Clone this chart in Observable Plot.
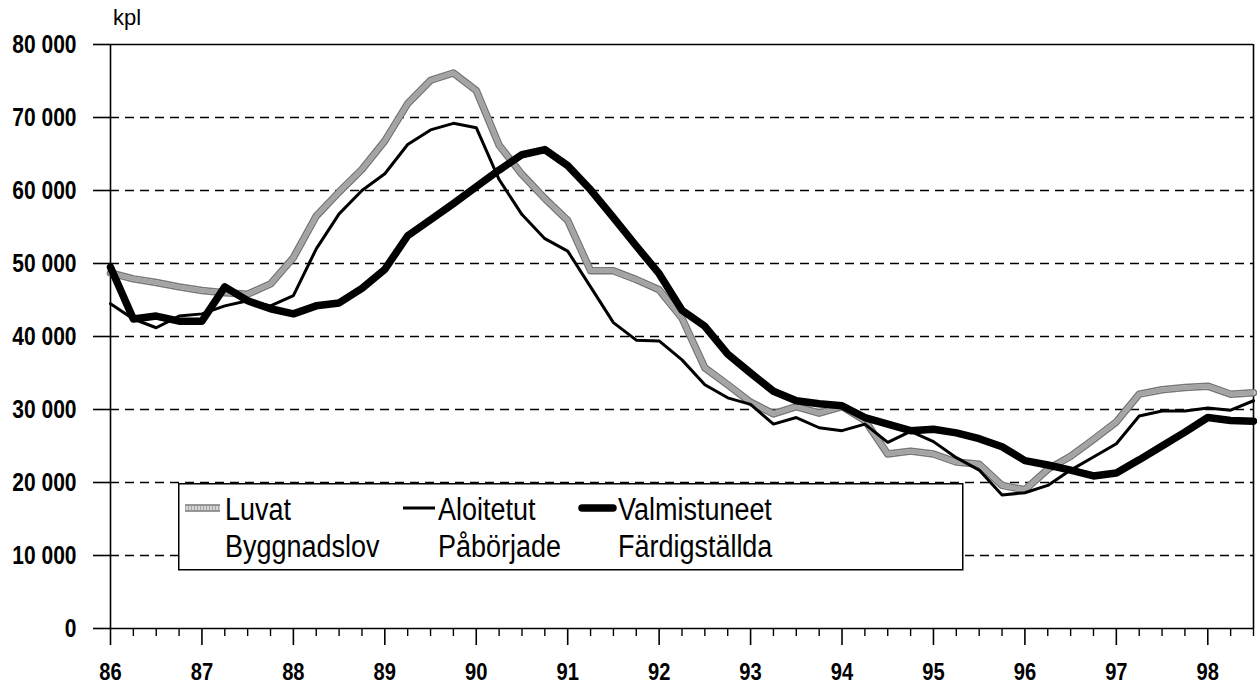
<!DOCTYPE html>
<html>
<head>
<meta charset="utf-8">
<script src="https://cdn.jsdelivr.net/npm/d3@7"></script>
<script src="https://cdn.jsdelivr.net/npm/@observablehq/plot@0.6"></script>
<style>
  html, body { margin: 0; padding: 0; background: #fff; }
  #wrap { position: relative; width: 1257px; height: 686px; overflow: hidden; }
  #unit { position: absolute; left: 113px; top: 5px; font-size: 22px; font-family: "Liberation Sans", Arial, sans-serif; }
  #legend { position: absolute; left: 178px; top: 483px; }
</style>
</head>
<body>
<div id="wrap"></div>
<script>
// ---- data (quarterly, 1986Q1 .. 1998Q3) ----
const luvat = [
  48700, 47900, 47400, 46800,
  46300, 46000, 45800, 47200,
  50800, 56500, 59800, 62900,
  66800, 71900, 75100, 76100,
  73700, 66200, 62200, 58900,
  55900, 49000, 49000, 47800,
  46400, 42500, 35700, 33400,
  31000, 29400, 30400, 29500,
  30400, 28500, 23900, 24300,
  23900, 22800, 22500, 19600,
  19000, 21800, 23600, 25900,
  28300, 32100, 32700, 33000,
  33200, 32100, 32300
];
const aloitetut = [
  44500, 42400, 41200, 42800,
  43100, 44200, 44900, 44200,
  45600, 52000, 56800, 60000,
  62300, 66300, 68300, 69200,
  68600, 61500, 56700, 53400,
  51700, 46800, 41900, 39500,
  39400, 36800, 33400, 31600,
  30700, 28000, 28900, 27500,
  27100, 28000, 25500, 27000,
  25600, 23400, 21700, 18300,
  18600, 19600, 21700, 23500,
  25300, 29100, 29800, 29800,
  30200, 29900, 31200
];
const valmistuneet = [
  49500, 42400, 42800, 42100,
  42100, 46800, 44900, 43800,
  43100, 44200, 44600, 46600,
  49200, 53800, 56000, 58200,
  60500, 62800, 64900, 65600,
  63400, 60100, 56300, 52400,
  48600, 43600, 41400, 37600,
  35000, 32500, 31200, 30800,
  30500, 28900, 28000, 27100,
  27300, 26800, 26000, 24900,
  23000, 22400, 21700, 20900,
  21300, 23100, 25000, 26900,
  28900, 28500, 28400
];
const yearTicks = [86, 87, 88, 89, 90, 91, 92, 93, 94, 95, 96, 97, 98];
const yTicks = [0, 10000, 20000, 30000, 40000, 50000, 60000, 70000, 80000];
const unitLabel = "kpl";
const legendItems = [
  {fi: "Luvat", sv: "Byggnadslov", key: "luvat"},
  {fi: "Aloitetut", sv: "Påbörjade", key: "aloitetut"},
  {fi: "Valmistuneet", sv: "Färdigställda", key: "valmistuneet"}
];

// quarter position of each observation (86 = start of 1986)
const quarter = luvat.map((_, i) => 86 + i / 4);
const quarterTicks = quarter.filter(q => !yearTicks.includes(q));
const rows = (vals) => vals.map((v, i) => ({x: quarter[i], y: v}));

const FONT = '"Liberation Sans", Arial, sans-serif';
const SQUEEZE = 0.84; // emulate a condensed face
const fmt = d => d3.format(",")(d).replace(/,/g, " ");

const chart = Plot.plot({
  width: 1257,
  height: 686,
  marginLeft: 110,
  marginRight: 4,
  marginTop: 44,
  marginBottom: 58,
  x: {domain: [86, 98.5]},
  y: {domain: [0, 80000]},
  style: {fontFamily: FONT, fontSize: "25px", color: "#000", background: "#fff", overflow: "visible"},
  marks: [
    Plot.ruleY(yTicks.filter(d => d > 0 && d < 80000), {stroke: "#000", strokeWidth: 1.4, strokeDasharray: "9,6"}),
    Plot.ruleY([0, 80000], {stroke: "#000", strokeWidth: 1.6}),
    Plot.ruleX([86, 98.5], {stroke: "#000", strokeWidth: 1.6}),
    Plot.axisY({ticks: yTicks, tickSize: 17, tickPadding: 17, tickFormat: fmt, label: null, fontWeight: "bold", strokeWidth: 1.6}),
    Plot.axisX({ticks: quarterTicks, tickSize: 8, tickFormat: () => "", label: null, strokeWidth: 1.4}),
    Plot.axisX({ticks: yearTicks, tickSize: 17, tickPadding: 17, tickFormat: d => String(d), label: null, fontWeight: "bold", fontSize: 24, strokeWidth: 1.6}),
    // Luvat: grey textured band
    Plot.line(rows(luvat), {x: "x", y: "y", stroke: "#777", strokeWidth: 7.5, strokeLinejoin: "round"}),
    Plot.line(rows(luvat), {x: "x", y: "y", stroke: "#d6d6d6", strokeWidth: 4.5, strokeLinejoin: "round"}),
    Plot.line(rows(luvat), {x: "x", y: "y", stroke: "#a4a4a4", strokeWidth: 4.5, strokeDasharray: "1,2", strokeLinejoin: "round"}),
    // Aloitetut: thin black
    Plot.line(rows(aloitetut), {x: "x", y: "y", stroke: "#000", strokeWidth: 3, strokeLinejoin: "round"}),
    // Valmistuneet: thick black
    Plot.line(rows(valmistuneet), {x: "x", y: "y", stroke: "#000", strokeWidth: 7.5, strokeLinejoin: "round", strokeLinecap: "round"})
  ]
});

// horizontally condense the axis tick labels around their anchor point
d3.select(chart).selectAll("g[aria-label$='tick label'] text").each(function() {
  const el = d3.select(this);
  const t = el.attr("transform");
  if (t) {
    el.attr("transform", t + ` scale(${SQUEEZE},1)`);
  } else {
    const x = +el.attr("x") || 0, y = +el.attr("y") || 0;
    el.attr("x", null).attr("y", null).attr("transform", `translate(${x},${y}) scale(${SQUEEZE},1)`);
  }
});

const wrap = document.getElementById("wrap");
wrap.appendChild(chart);

const unit = document.createElement("div");
unit.id = "unit";
unit.textContent = unitLabel;
wrap.appendChild(unit);

// legend box
const lg = d3.create("svg").attr("id", "legend").attr("width", 786).attr("height", 88)
  .style("font-family", FONT);
lg.append("rect").attr("x", 0.75).attr("y", 0.75).attr("width", 784).attr("height", 86)
  .attr("fill", "#fff").attr("stroke", "#000").attr("stroke-width", 1.5);
const sym = [
  {x1: 7, x2: 42, tx: 47},
  {x1: 225, x2: 257, tx: 260},
  {x1: 404, x2: 435, tx: 440}
];
legendItems.forEach((it, i) => {
  const s = sym[i];
  const g = lg.append("g");
  const ln = () => g.append("line").attr("x1", s.x1).attr("x2", s.x2).attr("y1", 25).attr("y2", 25);
  if (it.key === "luvat") {
    ln().attr("stroke", "#777").attr("stroke-width", 7.5);
    ln().attr("stroke", "#d6d6d6").attr("stroke-width", 4.5);
    ln().attr("stroke", "#a4a4a4").attr("stroke-width", 4.5).attr("stroke-dasharray", "1,2");
  } else if (it.key === "aloitetut") {
    ln().attr("stroke", "#000").attr("stroke-width", 3);
  } else {
    ln().attr("stroke", "#000").attr("stroke-width", 7.5).attr("stroke-linecap", "round");
  }
  g.append("text").attr("transform", `translate(${s.tx},37) scale(${SQUEEZE + 0.03},1)`).attr("font-size", 31).text(it.fi);
  g.append("text").attr("transform", `translate(${s.tx},74) scale(${SQUEEZE + 0.03},1)`).attr("font-size", 31).text(it.sv);
});
wrap.appendChild(lg.node());
</script>
</body>
</html>
